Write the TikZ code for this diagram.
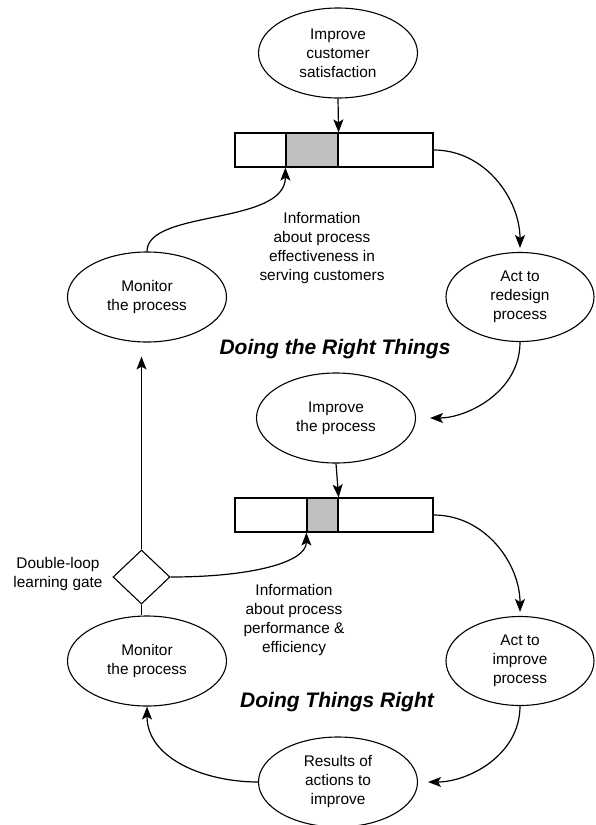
\documentclass[tikz,border=0pt]{standalone}
\usepackage{fontspec}
\setmainfont{Liberation Sans}
\usetikzlibrary{shapes.geometric,arrows.meta}

\tikzset{
	oval/.style={draw, ellipse, line width=1.1pt, minimum width=159pt, minimum height=90pt, inner sep=0pt, align=center, font=\fontsize{15.4}{19}\selectfont},
	actoval/.style={oval, minimum width=148pt, minimum height=89pt},
	bar/.style={draw, line width=1.2pt, minimum height=34pt, inner sep=0pt},
	shade/.style={bar, fill=black!25},
	gate/.style={draw, diamond, line width=1.1pt, minimum width=57pt, minimum height=54pt, inner sep=0pt},
	note/.style={align=center, font=\fontsize{15.4}{19}\selectfont},
	title/.style={font=\fontsize{21}{25}\selectfont\bfseries\itshape},
	flow/.style={-{Stealth[length=13pt,width=10pt,inset=3pt]}, line width=1.2pt},
	link/.style={line width=1.2pt},
}

\begin{document}
\begin{tikzpicture}[x=1pt,y=1pt]
	\useasboundingbox (0,0) rectangle (595,-825);
	% doing the right things
	\node[oval] (sat) at (338,-53) {Improve\\customer\\satisfaction};
	\node[bar, minimum width=198pt] (bar1) at (334,-150) {};
	\node[shade, minimum width=52pt] (g1) at (312,-150) {};
	\node[actoval] (redesign) at (520,-297) {Act to\\redesign\\process};
	\node[oval] (mon1) at (147,-297) {Monitor\\the process};
	\node[note] (info1) at (322,-248) {Information\\about process\\effectiveness in\\serving customers};
	\node[title] (right1) at (335,-349) {Doing the Right Things};
	\node[oval] (proc) at (336,-418) {Improve\\the process};
	% doing things right
	\node[bar, minimum width=198pt] (bar2) at (334,-515) {};
	\node[shade, minimum width=31pt] (g2) at (322.5,-515) {};
	\node[gate] (loop) at (141.5,-577) {};
	\node[note] (looplbl) at (58,-574) {Double-loop\\learning gate};
	\node[note] (info2) at (294,-620) {Information\\about process\\performance \&\\efficiency};
	\node[oval] (mon2) at (147,-661) {Monitor\\the process};
	\node[actoval] (improve) at (520,-661) {Act to\\improve\\process};
	\node[title] (right2) at (337,-702) {Doing Things Right};
	\node[oval] (res) at (338,-782) {Results of\\actions to\\improve};

	\draw [flow] (sat.south) -- (g1.north east);
	\draw [flow, shorten >=4pt] (bar1.east) to[out=0, in=90] (redesign.north);
	\draw [flow, shorten >=14pt] (redesign.south) to[out=-90, in=0] (proc.east);
	\draw [flow] (mon1.north) .. controls +(0,42) and +(0,-58) .. (g1.south west);
	\draw [flow] (proc.south) -- (g2.north east);
	\draw [flow, shorten >=4pt] (bar2.east) to[out=0, in=90] (improve.north);
	\draw [flow, shorten >=10pt] (improve.south) to[out=-90, in=0] (res.east);
	\draw [flow] (res.west) to[out=180, in=-90] (mon2.south);
	\draw [link] (loop.south) -- (loop.south |- mon2.north);
	\draw [flow, shorten >=14pt] (loop.north) -- (loop.north |- mon1.south);
	\draw [flow] (loop.east) .. controls +(80,0) and +(0,-30) .. (g2.south west);
\end{tikzpicture}
\end{document}
